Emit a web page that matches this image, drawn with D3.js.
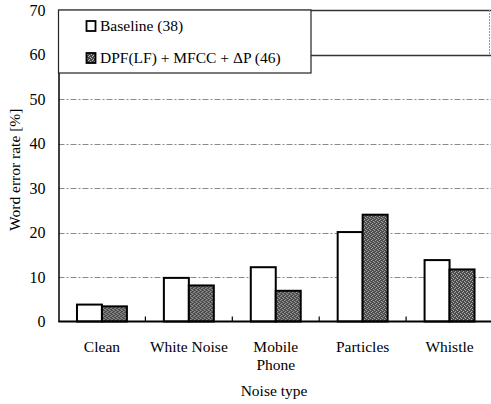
<!DOCTYPE html>
<html><head><meta charset="utf-8">
<script src="https://cdn.jsdelivr.net/npm/d3@7"></script>
<style>body{margin:0;background:#fff;}svg{display:block;}</style>
</head><body>
<script>
const categories = ["Clean", "White Noise", "Mobile Phone", "Particles", "Whistle"];
const categoryLines = [["Clean"], ["White Noise"], ["Mobile", "Phone"], ["Particles"], ["Whistle"]];
const seriesNames = ["Baseline (38)", "DPF(LF) + MFCC + \u0394P (46)"];
const baseline = [3.8, 9.8, 12.2, 20.1, 13.8];
const dpf = [3.4, 8.1, 6.9, 24.0, 11.7];
const yTicks = [0, 10, 20, 30, 40, 50, 60, 70];

const W = 491, H = 404;
const font = "'Liberation Serif', 'Times New Roman', serif";
const svg = d3.select("body").append("svg").attr("width", W).attr("height", H)
  .style("font-family", font);

const defs = svg.append("defs");
const pat = defs.append("pattern").attr("id", "stip").attr("patternUnits", "userSpaceOnUse")
  .attr("width", 4).attr("height", 4);
pat.append("rect").attr("width", 4).attr("height", 4).attr("fill", "#4a4a4a");
[[0,0],[2,1],[1,3],[3,2]].forEach(([px,py]) =>
  pat.append("rect").attr("x", px).attr("y", py).attr("width", 1).attr("height", 1).attr("fill", "#b8b8b8"));

const pLeft = 58.5, pRight = 493, pTop = 10, pBottom = 321.5;
const y = d3.scaleLinear().domain([0, 70]).range([pBottom, pTop]);
const x0 = d3.scaleBand().domain(categories).range([pLeft, pRight]).padding(0);
const x1 = d3.scaleBand().domain(seriesNames).range([0, x0.bandwidth()]).paddingInner(0).paddingOuter(0.74);

// gridlines
const g = svg.append("g");
yTicks.filter(t => t > 0 && t < 60).forEach(t => {
  g.append("line").attr("x1", pLeft).attr("x2", W).attr("y1", Math.round(y(t)) + 0.5).attr("y2", Math.round(y(t)) + 0.5)
    .attr("stroke", "#8a8a8a").attr("stroke-width", 1).attr("stroke-dasharray", "6,2,2,2");
});
[60, 70].forEach(t => {
  g.append("line").attr("x1", pLeft).attr("x2", W).attr("y1", Math.round(y(t)) + 0.5).attr("y2", Math.round(y(t)) + 0.5)
    .attr("stroke", "#333").attr("stroke-width", 1.3);
});
g.append("line").attr("x1", 489.5).attr("x2", 489.5).attr("y1", y(70)).attr("y2", y(60))
  .attr("stroke", "#999").attr("stroke-width", 1).attr("stroke-dasharray", "2,1");

// bars
const data = categories.map((c, i) => ({c, vals: [baseline[i], dpf[i]]}));
const groups = svg.append("g").selectAll("g").data(data).join("g")
  .attr("transform", d => `translate(${x0(d.c)},0)`);
groups.selectAll("rect").data(d => d.vals.map((v, j) => ({v, s: seriesNames[j], j}))).join("rect")
  .attr("x", d => x1(d.s))
  .attr("y", d => y(d.v))
  .attr("width", x1.bandwidth())
  .attr("height", d => pBottom - y(d.v))
  .attr("fill", d => d.j === 0 ? "#fff" : "url(#stip)")
  .attr("stroke", "#000").attr("stroke-width", 2);

// axes
const yAxis = d3.axisLeft(y).tickValues(yTicks).tickSize(0).tickPadding(13);
const ya = svg.append("g").attr("transform", `translate(${pLeft},0)`).call(yAxis);
ya.select(".domain").attr("stroke", "#000").attr("stroke-width", 1.5);
ya.selectAll("text").style("font-family", font).style("font-size", "16px").attr("fill", "#000");

svg.append("line").attr("x1", pLeft).attr("x2", W).attr("y1", pBottom).attr("y2", pBottom)
  .attr("stroke", "#000").attr("stroke-width", 2);
categories.slice(1).forEach(c => {
  svg.append("line").attr("x1", x0(c)).attr("x2", x0(c)).attr("y1", pBottom).attr("y2", pBottom - 5)
    .attr("stroke", "#000").attr("stroke-width", 1.2);
});

// category labels
categories.forEach((c, i) => {
  const t = svg.append("text").attr("text-anchor", "middle").style("font-size", "15.5px").attr("fill", "#000");
  categoryLines[i].forEach((ln, k) => {
    t.append("tspan").attr("x", x0(c) + x0.bandwidth() / 2).attr("y", 352 + k * 18).text(ln);
  });
});

svg.append("text").attr("x", 274).attr("y", 396).attr("text-anchor", "middle")
  .style("font-size", "15.5px").text("Noise type");
svg.append("text").attr("transform", `translate(20,${(pTop + pBottom) / 2 + 4}) rotate(-90)`)
  .attr("text-anchor", "middle").style("font-size", "15.5px").text("Word error rate [%]");

// legend
const lg = svg.append("g");
lg.append("rect").attr("x", pLeft).attr("y", pTop).attr("width", 311 - pLeft).attr("height", 73 - pTop)
  .attr("fill", "#fff").attr("stroke", "#222").attr("stroke-width", 1.2);
seriesNames.forEach((s, j) => {
  const cy = [26, 58][j];
  lg.append("rect").attr("x", 86.5).attr("y", cy - 5).attr("width", 9).attr("height", 10)
    .attr("fill", j === 0 ? "#fff" : "url(#stip)").attr("stroke", "#000").attr("stroke-width", 1.8);
  lg.append("text").attr("x", 100).attr("y", cy + 5).style("font-size", "15.5px").text(s);
});
</script>
</body></html>
